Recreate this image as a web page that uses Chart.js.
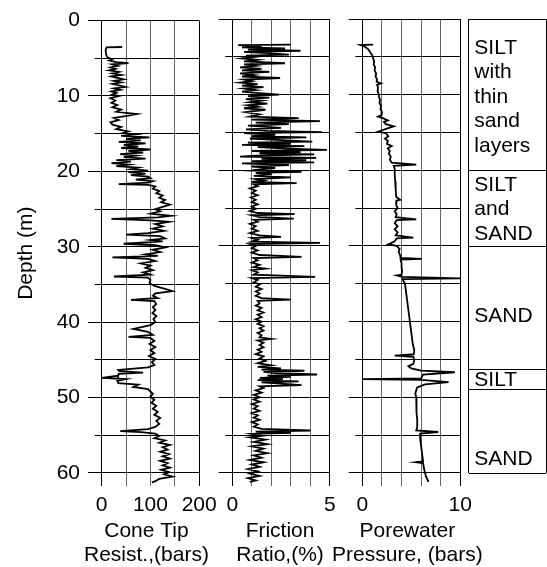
<!DOCTYPE html>
<html>
<head>
<meta charset="utf-8">
<script src="https://cdn.jsdelivr.net/npm/chart.js@4.4.1/dist/chart.umd.min.js"></script>
<style>
html, body { margin: 0; padding: 0; background: #fff; }
#wrap { position: relative; width: 547px; height: 567px; }
#wrap canvas { position: absolute; left: 0; top: 0; }
</style>
</head>
<body>
<div id="wrap">
  <canvas id="cone" width="547" height="567"></canvas>
  <canvas id="friction" width="547" height="567"></canvas>
  <canvas id="pore" width="547" height="567"></canvas>
  <canvas id="layers" width="547" height="567"></canvas>
</div>
<script>
// cone tip resistance (bars) vs depth (m)
var coneDepth = [
  3.5,3.55,3.9,4.5,4.9,5.1,5.3,5.5,5.65,5.8,
  6.0,6.2,6.4,6.6,6.8,7.0,7.2,7.4,7.6,7.8,
  8.0,8.2,8.4,8.6,8.8,9.0,9.2,9.4,9.6,9.8,
  10.0,10.3,10.6,10.9,11.2,11.5,11.8,12.1,12.4,12.6,
  12.9,13.2,13.5,13.8,14.1,14.4,14.7,14.9,15.1,15.3,
  15.5,15.7,15.9,16.1,16.3,16.5,16.7,16.9,17.1,17.3,
  17.5,17.7,17.9,18.1,18.3,18.5,18.7,18.9,19.1,19.3,
  19.5,19.7,19.9,20.1,20.3,20.5,20.7,20.9,21.1,21.3,
  21.5,21.7,21.8,22.0,22.3,22.6,22.9,23.2,23.5,23.8,
  24.1,24.4,24.7,25.0,25.3,25.6,25.9,26.1,26.3,26.5,
  26.7,27.0,27.3,27.6,27.9,28.2,28.4,28.6,28.9,29.1,
  29.3,29.6,29.8,30.1,30.4,30.7,31.0,31.2,31.4,31.6,
  31.9,32.2,32.5,32.8,33.1,33.4,33.7,33.95,34.1,34.4,
  34.8,35.2,35.6,35.9,36.2,36.5,36.8,37.05,37.2,37.6,
  38.0,38.4,38.8,39.2,39.6,40.0,40.4,40.9,41.3,41.7,
  41.95,42.1,42.5,42.9,43.3,43.7,44.1,44.5,44.9,45.3,
  45.7,46.0,46.2,46.35,46.5,46.7,46.85,47.1,47.4,47.55,
  47.8,48.1,48.3,48.6,48.9,49.2,49.5,49.9,50.3,50.7,
  51.1,51.5,51.9,52.3,52.7,53.1,53.5,53.9,54.2,54.45,
  54.6,54.8,55.1,55.4,55.7,56.0,56.3,56.6,56.9,57.2,
  57.5,57.8,58.1,58.4,58.7,59.0,59.3,59.6,59.9,60.2,
  60.5,60.8,61.1,61.25
];
var coneTip = [
  42,10,8,9,12,22,15,30,55,22,
  33,18,28,15,35,22,40,20,32,45,
  25,40,22,35,48,25,38,20,30,22,
  35,18,28,20,32,22,40,30,72,55,
  25,35,18,22,40,30,55,45,70,40,
  98,50,80,35,90,45,75,40,100,55,
  85,38,70,45,90,30,60,20,55,30,
  75,60,95,55,90,60,95,100,70,105,
  95,35,95,110,105,118,112,125,118,130,
  122,140,125,110,120,100,142,115,20,100,
  138,110,125,105,128,95,50,120,130,100,
  125,45,110,130,105,120,90,115,22,95,
  110,80,100,90,105,85,100,25,95,100,
  98,108,130,145,110,105,115,60,108,112,
  105,110,104,112,106,110,100,65,95,105,
  55,100,108,98,110,100,108,97,110,103,
  108,95,60,34,36,85,35,34,0,50,
  32,34,75,65,95,100,105,100,108,102,
  112,105,115,108,120,112,118,110,95,38,
  80,110,118,108,130,118,140,125,135,120,
  138,125,140,120,135,125,140,122,138,128,
  145,118,110,103
];

// friction ratio (%) vs depth (m)
var frDepth = [
  3.4,3.45,3.6,3.75,3.9,4.05,4.2,4.35,4.5,4.7,
  4.85,5.0,5.2,5.4,5.6,5.85,6.0,6.2,6.4,6.6,
  6.8,7.0,7.2,7.4,7.6,7.8,8.0,8.2,8.4,8.6,
  8.8,9.0,9.2,9.4,9.6,9.8,10.0,10.2,10.4,10.6,
  10.8,11.0,11.2,11.4,11.6,11.8,12.0,12.3,12.6,12.9,
  13.1,13.3,13.5,13.7,13.9,14.1,14.4,14.6,14.8,14.95,
  15.1,15.3,15.5,15.65,15.8,16.0,16.2,16.35,16.5,16.65,
  16.8,16.95,17.1,17.3,17.45,17.6,17.75,17.9,18.05,18.2,
  18.35,18.5,18.65,18.8,18.95,19.1,19.3,19.5,19.7,19.9,
  20.05,20.2,20.35,20.55,20.75,20.95,21.15,21.35,21.55,21.7,
  21.85,22.1,22.4,22.7,23.0,23.3,23.6,23.9,24.2,24.5,
  24.8,25.1,25.4,25.65,25.8,25.95,26.2,26.4,26.55,26.8,
  27.1,27.4,27.7,28.0,28.3,28.6,28.8,28.95,29.2,29.45,
  29.6,29.75,30.0,30.3,30.6,30.9,31.2,31.45,31.6,31.9,
  32.2,32.5,32.8,33.0,33.2,33.5,33.8,34.1,34.25,34.5,
  34.8,35.1,35.4,35.7,36.0,36.3,36.6,36.9,37.1,37.25,
  37.6,37.9,38.2,38.5,38.8,39.1,39.4,39.7,40.0,40.3,
  40.6,40.9,41.2,41.5,41.8,42.1,42.3,42.5,42.8,43.1,
  43.4,43.7,44.0,44.3,44.6,44.9,45.2,45.5,45.8,46.0,
  46.2,46.35,46.5,46.65,46.8,47.0,47.15,47.3,47.45,47.6,
  47.75,47.9,48.05,48.2,48.4,48.55,48.8,49.1,49.4,49.7,
  50.0,50.3,50.6,50.9,51.2,51.5,51.8,52.1,52.4,52.7,
  53.0,53.3,53.6,53.9,54.2,54.4,54.55,54.7,54.85,55.1,
  55.3,55.6,55.9,56.2,56.5,56.8,57.1,57.4,57.7,58.0,
  58.3,58.6,58.9,59.2,59.5,59.8,60.1,60.4,60.7,61.0,
  61.2
];
var frRatio = [
  3.0,0.3,1.5,0.5,2.7,0.8,3.5,0.6,1.8,2.9,
  0.7,1.2,0.5,1.3,0.6,2.7,0.6,1.2,0.4,1.5,
  0.5,1.9,0.4,1.1,0.5,2.45,0.6,1.0,0.4,1.3,
  0.5,1.6,0.6,1.2,0.5,1.4,2.4,0.8,1.9,0.7,
  1.5,0.9,1.8,0.8,1.3,0.6,1.7,0.7,1.4,0.9,
  3.4,1.0,4.5,1.2,2.9,0.8,2.5,0.7,1.8,4.6,
  0.6,2.2,1.0,3.8,0.9,2.5,4.1,0.8,3.0,0.5,
  3.7,1.3,2.6,4.85,1.0,3.5,1.4,4.2,1.2,0.4,
  4.3,1.5,3.8,1.0,4.2,0.5,2.9,1.0,2.2,1.3,
  1.0,3.55,1.2,2.0,1.1,3.0,1.2,1.6,1.0,3.3,
  1.1,1.3,0.9,1.2,1.0,1.3,0.95,1.2,1.0,1.3,
  1.0,1.2,0.9,1.3,3.2,1.0,1.4,3.15,1.1,1.3,
  0.9,1.2,1.0,1.3,0.9,1.4,2.5,1.0,1.3,1.0,
  4.5,0.9,1.2,1.0,1.3,1.0,1.4,3.55,1.1,1.3,
  1.0,1.4,1.1,1.7,1.0,1.3,1.1,4.25,1.0,1.3,
  1.1,1.4,1.2,1.5,1.2,1.4,1.2,1.5,3.0,1.3,
  1.4,1.2,1.5,1.3,1.6,1.3,1.5,1.2,1.5,1.3,
  1.6,1.4,1.6,1.3,1.5,1.4,2.0,1.3,1.6,1.4,
  1.6,1.3,1.5,1.2,1.6,1.4,1.7,1.3,2.0,1.3,
  2.5,1.5,3.7,1.6,2.2,4.35,1.8,3.0,1.4,2.6,
  1.3,3.4,1.5,2.5,3.55,1.4,1.6,1.2,1.5,1.1,
  1.4,1.1,1.4,1.0,1.3,1.1,1.4,1.0,1.3,1.1,
  1.4,1.0,1.3,1.1,1.5,4.0,1.2,3.0,1.0,1.5,
  0.9,1.7,1.1,1.8,1.0,1.6,1.2,1.8,1.1,1.5,
  0.9,1.6,1.0,1.4,0.8,1.3,0.9,1.4,0.8,1.2,
  0.9
];

// porewater pressure (bars) vs depth (m)
var pwDepth = [
  3.4,3.45,3.7,4.0,4.4,4.8,5.2,5.6,6.0,6.4,
  6.8,7.2,7.6,8.0,8.3,8.5,8.7,9.1,9.5,9.9,
  10.3,10.7,11.1,11.5,11.9,12.3,12.7,12.9,13.1,13.4,
  13.6,13.9,14.2,14.5,14.9,15.1,15.5,15.8,16.1,16.5,
  16.8,17.1,17.5,17.8,18.2,18.6,19.0,19.25,19.4,19.8,
  20.5,21.5,22.5,23.5,23.9,24.0,24.6,25.0,25.4,25.8,
  26.2,26.5,26.6,27.0,27.4,27.8,28.2,28.6,28.9,29.0,
  29.4,29.8,30.0,30.4,30.8,31.2,31.6,31.7,31.8,32.3,
  32.8,33.3,33.8,33.9,34.1,34.3,34.4,35.0,36.0,37.0,
  38.0,39.0,40.0,41.0,42.0,43.0,43.8,44.3,44.5,44.65,
  45.1,45.6,45.9,46.2,46.5,46.7,47.0,47.5,47.6,47.7,
  48.0,48.3,48.7,49.1,49.5,50.0,51.0,52.0,53.0,54.0,
  54.4,54.6,54.8,55.5,56.5,57.5,58.5,58.6,58.7,59.5,
  60.5,61.2
];
var pwPressure = [
  1.1,-0.2,0.3,0.6,0.8,1.0,1.1,1.2,1.15,1.3,
  1.25,1.4,1.35,1.5,1.45,1.9,1.5,1.6,1.55,1.65,
  1.7,1.8,1.75,1.9,1.85,2.0,1.95,1.6,2.1,2.6,
  2.2,2.4,3.2,2.5,1.6,2.4,2.65,2.3,2.6,2.5,
  3.0,2.6,2.8,2.7,2.9,2.8,3.0,5.5,3.2,3.3,
  3.3,3.35,3.4,3.45,3.85,3.5,3.45,3.6,3.3,3.5,
  3.4,5.5,3.5,3.3,3.6,3.3,3.6,3.4,5.2,3.5,
  3.3,2.65,3.5,3.8,3.7,3.85,3.9,6.05,3.9,4.0,
  4.0,4.05,4.0,3.5,4.1,10.0,4.1,4.35,4.45,4.55,
  4.65,4.75,4.85,4.95,5.05,5.15,5.3,5.25,3.3,5.2,
  5.3,5.2,4.7,5.0,6.0,9.45,6.2,6.0,0.0,6.0,
  8.8,6.4,5.6,5.5,5.4,5.5,5.5,5.55,5.6,5.6,
  5.5,7.75,5.9,5.9,6.0,6.1,6.2,5.5,6.2,6.3,
  6.5,6.75
];

var depthMax = 61.7;
var depthTicks = [0, 5, 10, 15, 20, 25, 30, 35, 40, 45, 50, 55, 60];

var coneTicks = [0, 50, 100, 150, 200];
var coneLabels = [0, 100, 200];
var frTicks = [0, 1, 2, 3, 4, 5];
var frLabels = [0, 5];
var pwTicks = [0, 2, 4, 6, 8, 10];
var pwLabels = [0, 10];

// soil description column
var layerBounds = [0, 20, 30, 46.3, 48.9, 60];
var layerNames = [
  ["SILT", "with", "thin", "sand", "layers"],
  ["SILT", "and", "SAND"],
  ["SAND"],
  ["SILT"],
  ["SAND"]
];
var layerLabelDepth = [10.3, 25.15, 39.2, 47.7, 58.15];

var FONT = "'Liberation Sans', Arial, sans-serif";
var W = 567;

var toPoints = function( depths, vals ){
    return depths.map(function( d, i ){ return { x: vals[i], y: d }; });
};

// axis title under each log, drawn by hand so the long lines are not squeezed
var bottomTitle = {
    id: "bottomTitle",
    afterDraw: function( chart, args, opts ){
        var c = chart.ctx, xs = chart.scales.x;
        var cx = ( xs.left + xs.right ) / 2 + ( opts.dx || 0 );
        c.save();
        c.fillStyle = "#000000";
        c.font = "21px " + FONT;
        c.textAlign = "center";
        c.textBaseline = "middle";
        opts.lines.forEach(function( t, j ){
            c.fillText( t, cx, xs.bottom - 12 - 24 * ( opts.lines.length - 1 - j ) );
        });
        c.restore();
    }
};

var logChart = function( id, cfg ){
    var xmin = cfg.ticks[0], xmax = cfg.ticks[cfg.ticks.length - 1];
    var ctx = document.getElementById( id ).getContext( "2d" );
    return new Chart(ctx, {
        type: "scatter",
        data: {
            datasets: [{
                data: toPoints( cfg.depth, cfg.values ),
                showLine: true,
                borderColor: "#000000",
                borderWidth: 1.8,
                pointRadius: 0,
                tension: 0,
                clip: false
            }]
        },
        options: {
            responsive: false,
            animation: false,
            events: [],
            layout: { padding: { left: 0, top: 19, right: 547 - cfg.right, bottom: 0 } },
            plugins: {
                legend: { display: false },
                tooltip: { enabled: false },
                bottomTitle: { lines: cfg.title, dx: cfg.titleDx }
            },
            scales: {
                x: {
                    type: "linear",
                    min: xmin,
                    max: xmax,
                    afterBuildTicks: function( s ){ s.ticks = cfg.ticks.map(function( v ){ return { value: v }; }); },
                    afterFit: function( s ){ s.height = W - 485.7; },
                    border: { display: false },
                    grid: {
                        drawTicks: false,
                        lineWidth: 1,
                        color: function( c ){
                            var v = c.tick ? c.tick.value : null;
                            return ( v === xmin || v === xmax ) ? "#000000" : "#666666";
                        }
                    },
                    ticks: {
                        autoSkip: false,
                        maxRotation: 0,
                        minRotation: 0,
                        padding: 7,
                        color: "#000000",
                        font: { family: FONT, size: 21 },
                        callback: function( v ){ return cfg.labels.indexOf( v ) >= 0 ? String( v ) : ""; }
                    },
                    title: { display: false }
                },
                y: {
                    type: "linear",
                    reverse: true,
                    min: 0,
                    max: depthMax,
                    afterBuildTicks: function( s ){ s.ticks = depthTicks.map(function( v ){ return { value: v }; }); },
                    afterFit: function( s ){ s.width = cfg.left; },
                    border: { display: false },
                    grid: {
                        color: "#000000",
                        lineWidth: 1,
                        tickLength: 13.7,
                        tickColor: "#000000",
                        // minor ticks (every 5 m) are about half as long
                        tickBorderDash: function( c ){
                            return ( c.tick && c.tick.value % 10 === 0 ) ? [] : [0, 6.7, 7, 0];
                        }
                    },
                    ticks: {
                        display: !!cfg.depthAxis,
                        autoSkip: false,
                        padding: 8,
                        color: "#000000",
                        font: { family: FONT, size: 21 },
                        callback: function( v ){ return v % 10 === 0 ? String( v ) : ""; }
                    },
                    title: {
                        display: !!cfg.depthAxis,
                        text: "Depth (m)",
                        color: "#000000",
                        font: { family: FONT, size: 21, lineHeight: 24 / 21 },
                        padding: { top: 14, bottom: 0 }
                    }
                }
            }
        },
        plugins: [bottomTitle]
    });
};

logChart( "cone", { depth: coneDepth, values: coneTip, ticks: coneTicks, labels: coneLabels,
    left: 101.7, right: 199.2, title: ["Cone Tip", "Resist.,(bars)"], titleDx: -4, depthAxis: true } );
logChart( "friction", { depth: frDepth, values: frRatio, ticks: frTicks, labels: frLabels,
    left: 232.3, right: 329.8, title: ["Friction", "Ratio,(%)"], titleDx: -1 } );
logChart( "pore", { depth: pwDepth, values: pwPressure, ticks: pwTicks, labels: pwLabels,
    left: 362.4, right: 460.3, title: ["Porewater", "Pressure, (bars)"], titleDx: -4 } );

// writes the soil names into the description column
var layerLabels = {
    id: "layerLabels",
    afterDraw: function( chart ){
        var c = chart.ctx, y = chart.scales.y, area = chart.chartArea;
        c.save();
        c.fillStyle = "#000000";
        c.font = "21px " + FONT;
        c.textAlign = "left";
        c.textBaseline = "middle";
        layerNames.forEach(function( lines, i ){
            var mid = y.getPixelForValue( layerLabelDepth[i] );
            lines.forEach(function( t, j ){
                c.fillText( t, area.left + 5.6, mid + ( j - ( lines.length - 1 ) / 2 ) * 24.5 );
            });
        });
        c.restore();
    }
};

new Chart(document.getElementById( "layers" ).getContext( "2d" ), {
    type: "scatter",
    data: { datasets: [] },
    options: {
        responsive: false,
        animation: false,
        events: [],
        layout: { padding: { left: 468.7, top: 19, right: 1, bottom: W - 473.3 } },
        plugins: { legend: { display: false }, tooltip: { enabled: false } },
        scales: {
            x: {
                type: "linear", min: 0, max: 1,
                afterBuildTicks: function( s ){ s.ticks = [{ value: 0 }, { value: 1 }]; },
                afterFit: function( s ){ s.height = 0; },
                border: { display: false },
                grid: { color: "#000000", drawTicks: false },
                ticks: { display: false }
            },
            y: {
                type: "linear", min: 0, max: 60, reverse: true,
                afterBuildTicks: function( s ){ s.ticks = layerBounds.map(function( v ){ return { value: v }; }); },
                afterFit: function( s ){ s.width = 0; },
                border: { display: false },
                grid: { color: "#000000", drawTicks: false },
                ticks: { display: false }
            }
        }
    },
    plugins: [layerLabels]
});
</script>
</body>
</html>
